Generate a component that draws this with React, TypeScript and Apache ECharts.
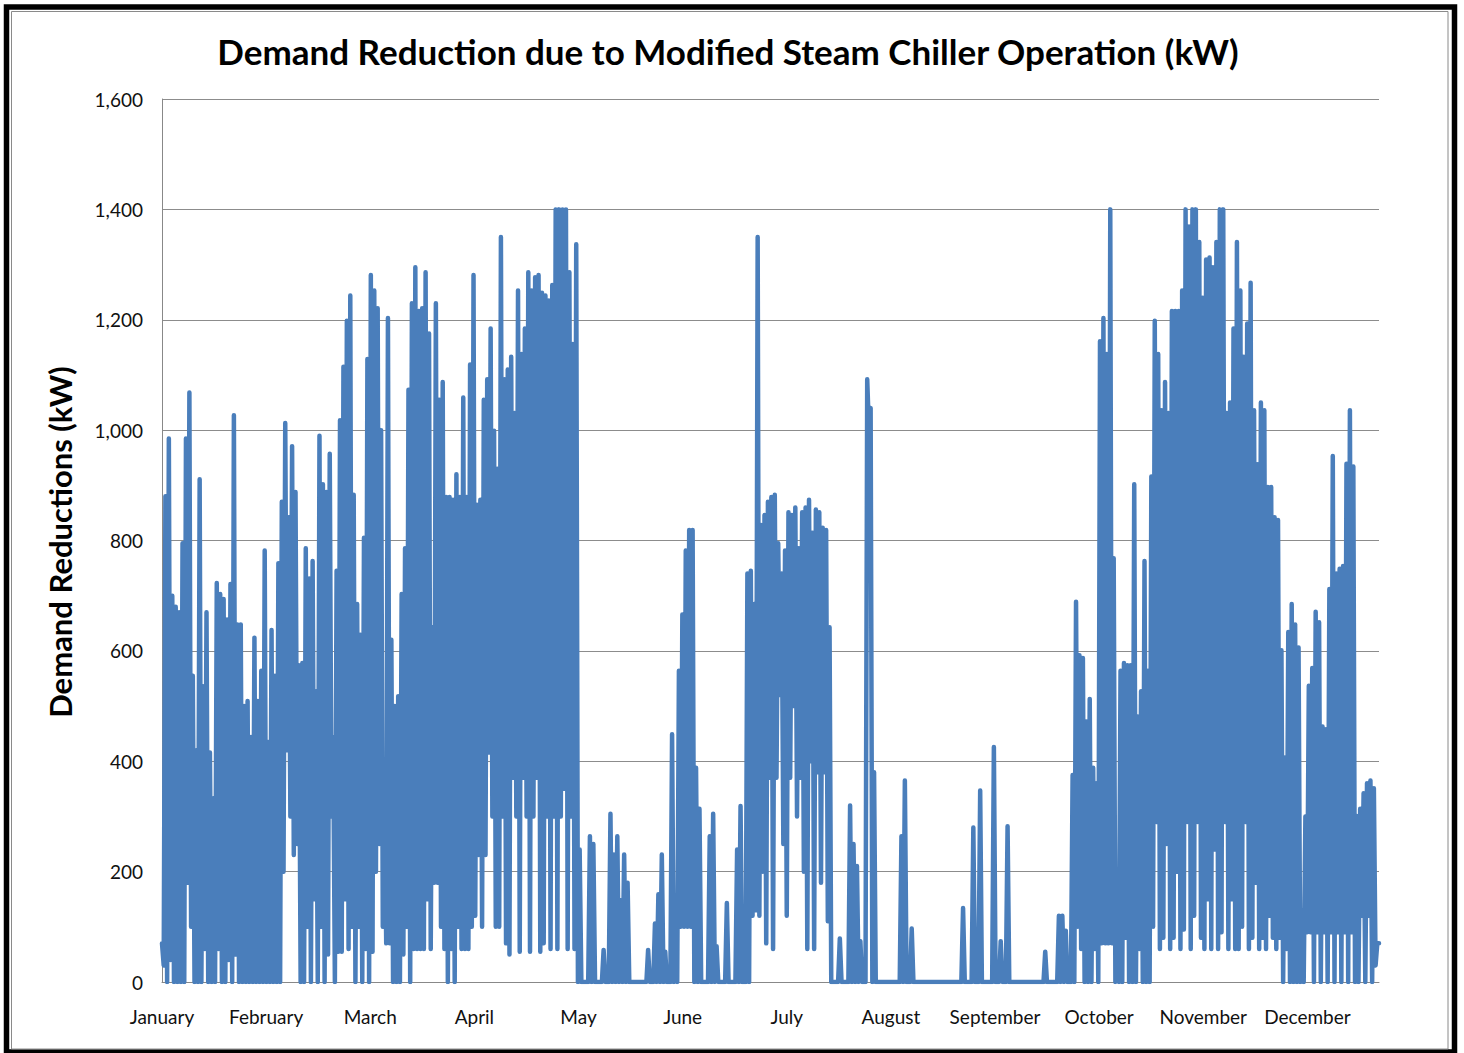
import React, { useEffect, useRef } from "react";
import * as echarts from "echarts";

const months = ["January", "February", "March", "April", "May", "June", "July", "August", "September", "October", "November", "December"];
const yTicks = [0, 200, 400, 600, 800, 1000, 1200, 1400, 1600];

// Daily [peak, low] demand reduction (kW)
const jan = [[70,30],[880,0],[985,40],[700,0],[680,0],[670,0],[795,0],[985,180],[1068,100],[555,0],
[420,0],[911,0],[536,60],[670,0],[416,0],[333,0],[723,60],[703,0],[694,0],[657,40],
[721,0],[1027,50],[648,0],[648,0],[500,0],[509,0],[444,0],[624,0],[509,0],[564,0]];
const feb = [[782,0],[435,0],[638,0],[555,0],[759,0],[870,200],[1013,420],[842,300],[971,230],[888,250],
[574,0],[578,0],[786,100],[731,0],[763,150],[527,0],[990,100],[902,0],[888,50],[957,300],
[444,0],[745,55],[1018,55],[1115,150],[1198,60],[1244,100],[883,0],[685,100],[629,0],[805,60],
[1129,0]];
const mar = [[1281,55],[1253,200],[1221,250],[1000,100],[342,70],[1203,70],[620,0],[500,0],[518,0],[703,50],
[786,100],[1073,0],[1230,60],[1295,60],[1216,60],[1221,60],[1286,150],[1175,60],[643,180],[1230,180],
[1055,100],[1087,60],[879,0],[879,60],[874,0],[920,100],[879,60],[1059,60],[879,60],[1119,100]];
const apr = [[1281,120],[865,230],[874,100],[1055,230],[1092,416],[1184,300],[999,100],[930,100],[1350,300],[1092,70],
[1110,50],[1133,370],[1031,300],[1253,55],[1138,370],[1184,300],[1286,55],[1253,300],[1277,370],[1281,55],
[1249,70],[1244,300],[1235,60],[1263,300],[1400,60],[1400,300],[1400,350],[1400,60],[1286,300],[1156,60],
[1337,0]];
const may = [[240,0],[0,0],[0,0],[264,0],[250,0],[0,0],[0,0],[58,0],[0,0],[305,0],
[231,0],[264,0],[148,0],[231,0],[180,0],[0,0],[0,0],[0,0],[0,0],[0,0],
[58,0],[0,0],[106,0],[159,0],[231,0],[55,0],[0,0],[449,0],[23,0],[564,100],
[666,100]];
const jun = [[782,100],[819,100],[819,0],[388,0],[314,0],[0,0],[0,0],[264,0],[305,0],[65,0],
[0,0],[0,0],[143,0],[0,0],[0,0],[240,0],[319,0],[0,0],[740,0],[745,120],
[685,130],[1350,120],[828,200],[846,70],[870,370],[879,60],[883,370],[795,520],[740,250],[782,120],
[851,370]];
const jul = [[846,500],[860,300],[786,370],[851,200],[860,60],[874,400],[814,60],[856,380],[851,180],[823,380],
[819,110],[643,0],[0,0],[0,0],[79,0],[0,0],[0,0],[320,0],[250,0],[210,0],
[74,0],[0,0],[1092,1000],[1040,0],[380,0],[0,0],[0,0],[0,0],[0,0],[0,0],
[0,0]];
const aug = [[0,0],[264,0],[365,0],[0,0],[97,0],[0,0],[0,0],[0,0],[0,0],[0,0],
[0,0],[0,0],[0,0],[0,0],[0,0],[0,0],[0,0],[0,0],[0,0],[134,0],
[0,0],[0,0],[280,0],[0,0],[347,0],[0,0],[0,0],[0,0],[426,0],[0,0],
[74,0]];
const sep = [[0,0],[282,0],[0,0],[0,0],[0,0],[0,0],[0,0],[0,0],[0,0],[0,0],
[0,0],[0,0],[55,0],[0,0],[0,0],[0,0],[120,0],[120,0],[93,0],[0,0],
[375,0],[689,100],[592,60],[587,0],[472,0],[513,0],[388,60],[360,0],[1161,70],[1203,70]];
const oct = [[1138,70],[1400,70],[768,0],[65,0],[564,0],[578,80],[574,0],[574,0],[902,0],[481,60],
[527,0],[763,0],[564,0],[916,100],[1198,290],[1138,60],[1036,80],[1087,250],[1031,60],[1216,80],
[1216,200],[1216,60],[1253,95],[1400,290],[1369,60],[1400,120],[1400,290],[1341,80],[1240,60],[1309,150]];
const nov = [[1313,60],[1295,240],[1341,60],[1400,90],[1400,290],[1031,60],[1050,150],[1184,60],[1341,60],[1253,100],
[1133,290],[1193,60],[1267,80],[1036,180],[938,60],[1050,80],[1036,60],[897,120],[897,80],[842,60],
[837,80],[601,0],[407,60],[634,0],[685,0],[648,0],[606,0],[130,0],[300,90],[537,90]];
const dec = [[569,0],[671,90],[652,0],[463,90],[458,0],[712,90],[953,0],[740,90],[749,0],[754,90],
[939,0],[1036,90],[934,0],[301,0],[314,120],[342,0],[360,120],[365,0],[351,30],[70,70]];

const segments = [jan, feb, mar, apr, may, jun, jul, aug, sep, oct, nov, dec];
const HOURS_PER_MONTH = 730;

export default function App() {
  const ref = useRef<HTMLDivElement>(null);
  useEffect(() => {
    if (!ref.current) return;
    const chart = echarts.init(ref.current, null, { renderer: "svg" });
    const days = segments.flat();
    const points: number[][] = [];
    days.forEach((d, i) => {
      points.push([i * 24, d[0]]);
      points.push([i * 24 + 12, d[1]]);
    });
    const xMax = (days.length - 1) * 24 + 12;
    const font = "Lato, 'Open Sans', sans-serif";
    chart.setOption({
      animation: false,
      backgroundColor: "#ffffff",
      grid: { left: 162, right: 85, top: 99, bottom: 71, containLabel: false },
      xAxis: {
        type: "value",
        min: 0,
        max: xMax,
        interval: HOURS_PER_MONTH,
        axisLine: { show: true, lineStyle: { color: "#888888", width: 1 } },
        axisTick: { show: false },
        splitLine: { show: false },
        axisLabel: {
          showMaxLabel: false,
          margin: 25,
          fontFamily: font,
          fontSize: 19,
          color: "#111111",
          formatter: (v: number) => {
            const i = Math.round(v / HOURS_PER_MONTH);
            return Math.abs(v - i * HOURS_PER_MONTH) < 0.5 && i < months.length ? months[i] : "";
          },
        },
      },
      yAxis: {
        type: "value",
        min: yTicks[0],
        max: yTicks[yTicks.length - 1],
        interval: 200,
        axisLine: { show: true, lineStyle: { color: "#888888", width: 1 } },
        axisTick: { show: false },
        splitLine: { show: true, lineStyle: { color: "#8c8c8c", width: 1 } },
        axisLabel: {
          margin: 19,
          fontFamily: font,
          fontSize: 19,
          color: "#111111",
          formatter: (v: number) => v.toLocaleString("en-US"),
        },
      },
      series: [
        {
          type: "line",
          data: points,
          symbol: "none",
          lineStyle: { color: "#4a7ebb", width: 4.5, cap: "round", join: "round" },
          silent: true,
        },
      ],
      graphic: [
        {
          type: "rect",
          shape: { x: 6.5, y: 7, width: 1448, height: 1045 },
          style: { fill: "none", stroke: "#000000", lineWidth: 5.5 },
          silent: true,
        },
        {
          type: "rect",
          shape: { x: 11.5, y: 11.5, width: 1436.5, height: 1037.5 },
          style: { fill: "none", stroke: "#8a8a8a", lineWidth: 1 },
          silent: true,
        },
        {
          type: "text",
          x: 728,
          y: 51,
          style: {
            text: "Demand Reduction due to Modified Steam Chiller Operation (kW)",
            fontFamily: font,
            fontWeight: "bold",
            fontSize: 35,
            fill: "#000000",
            textAlign: "center",
            textVerticalAlign: "middle",
          },
        },
        {
          type: "text",
          x: 60,
          y: 542,
          rotation: Math.PI / 2,
          style: {
            text: "Demand Reductions (kW)",
            fontFamily: font,
            fontWeight: "bold",
            fontSize: 31,
            fill: "#000000",
            textAlign: "center",
            textVerticalAlign: "middle",
          },
        },
      ],
    });
    return () => chart.dispose();
  }, []);
  return (
    <div
      ref={ref}
      style={{ position: "fixed", left: 0, top: 0, width: 1464, height: 1053, background: "#fff" }}
    />
  );
}
